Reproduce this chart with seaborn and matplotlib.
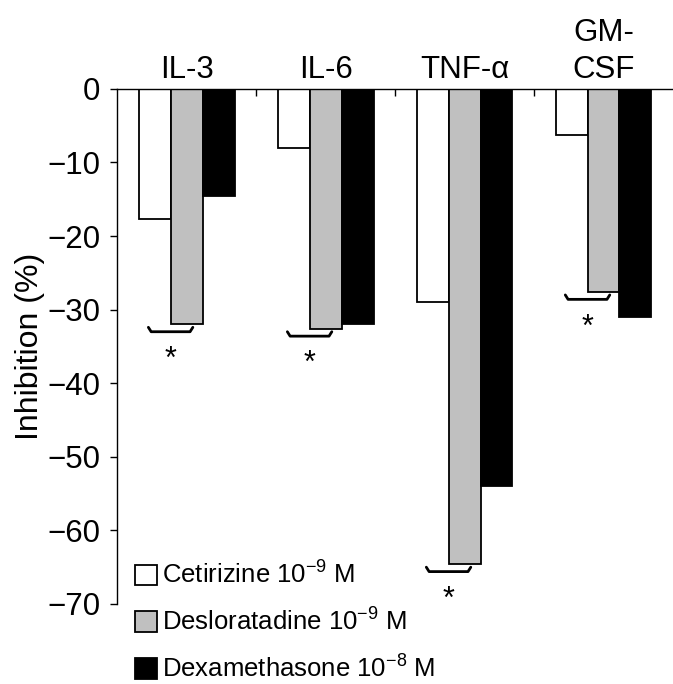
import pandas as pd
import matplotlib
matplotlib.use('Agg')
import matplotlib.pyplot as plt
import seaborn as sns

# Datos
citocinas = ['IL-3', 'IL-6', 'TNF-α', 'GM-\nCSF']
tratamientos = [r'Cetirizine 10$^{-9}$ M',
                r'Desloratadine 10$^{-9}$ M',
                r'Dexamethasone 10$^{-8}$ M']
cetirizina = [-17.7, -8.0, -29.0, -6.2]
desloratadina = [-32.0, -32.6, -64.6, -27.6]
dexametasona = [-14.5, -32.0, -54.0, -31.0]
significativo = [True, True, True, True]  # cetirizina vs desloratadina
colores = ['white', '#c0c0c0', 'black']

df = pd.DataFrame({
    'citocina': citocinas * 3,
    'tratamiento': [t for t in tratamientos for _ in citocinas],
    'inhibicion': cetirizina + desloratadina + dexametasona,
})

sns.set_style('white')
plt.rcParams['font.family'] = ['Liberation Sans', 'DejaVu Sans']
plt.rcParams['mathtext.fontset'] = 'custom'
plt.rcParams['mathtext.rm'] = 'Liberation Sans'
plt.rcParams['mathtext.it'] = 'Liberation Sans'
plt.rcParams['text.color'] = 'black'
plt.rcParams['axes.labelcolor'] = 'black'
plt.rcParams['xtick.color'] = 'black'
plt.rcParams['ytick.color'] = 'black'

fig = plt.figure(figsize=(6.73, 6.84), dpi=100)
ax = fig.add_axes([0.174, 0.117, 0.826, 0.753])

sns.barplot(data=df, x='citocina', y='inhibicion', hue='tratamiento',
            order=citocinas, hue_order=tratamientos, palette=colores,
            edgecolor='black', linewidth=1.3, width=0.69, ax=ax)

# Corchetes y asteriscos
for i, sig in enumerate(significativo):
    if not sig:
        continue
    xc = i - 0.115
    y = desloratadina[i] - 1.0
    ax.plot([xc - 0.16, xc - 0.14, xc + 0.14, xc + 0.16],
            [y + 0.6, y, y, y + 0.6], color='black', lw=2.0,
            solid_capstyle='round', clip_on=False)
    ax.text(xc, y - 4.9, '*', ha='center', va='baseline', fontsize=22)

ax.set_xlim(-0.5, 3.5)
ax.set_ylim(-70, 0)
ax.set_yticks(range(-70, 1, 10))
ax.xaxis.tick_top()
ax.set_xticks(range(len(citocinas)))
ax.set_xticklabels(citocinas)
for etiqueta in ax.get_xticklabels():
    etiqueta.set_linespacing(1.3)
ax.set_xticks([0.5, 1.5, 2.5], minor=True)
ax.tick_params(axis='x', which='major', length=0, pad=3, labelsize=22.5)
ax.tick_params(axis='x', which='minor', direction='in', length=5, width=1,
               top=True, bottom=False)
ax.tick_params(axis='y', direction='out', length=5, width=1, pad=7,
               labelsize=22.5, left=True)
ax.set_xlabel('')
ax.set_ylabel('Inhibition (%)', fontsize=23, labelpad=2)

for lado in ['right', 'bottom']:
    ax.spines[lado].set_visible(False)
for lado in ['left', 'top']:
    ax.spines[lado].set_color('black')
    ax.spines[lado].set_linewidth(1.0)

handles, labels = ax.get_legend_handles_labels()
ax.legend(handles, labels, loc='upper left', bbox_to_anchor=(0.201, 0.179),
          bbox_transform=fig.transFigure, frameon=False, fontsize=18.5,
          handlelength=0.85, handleheight=0.85, handletextpad=0.2,
          labelspacing=0.76, borderaxespad=0, borderpad=0)

fig.savefig('out.png', dpi=100)
